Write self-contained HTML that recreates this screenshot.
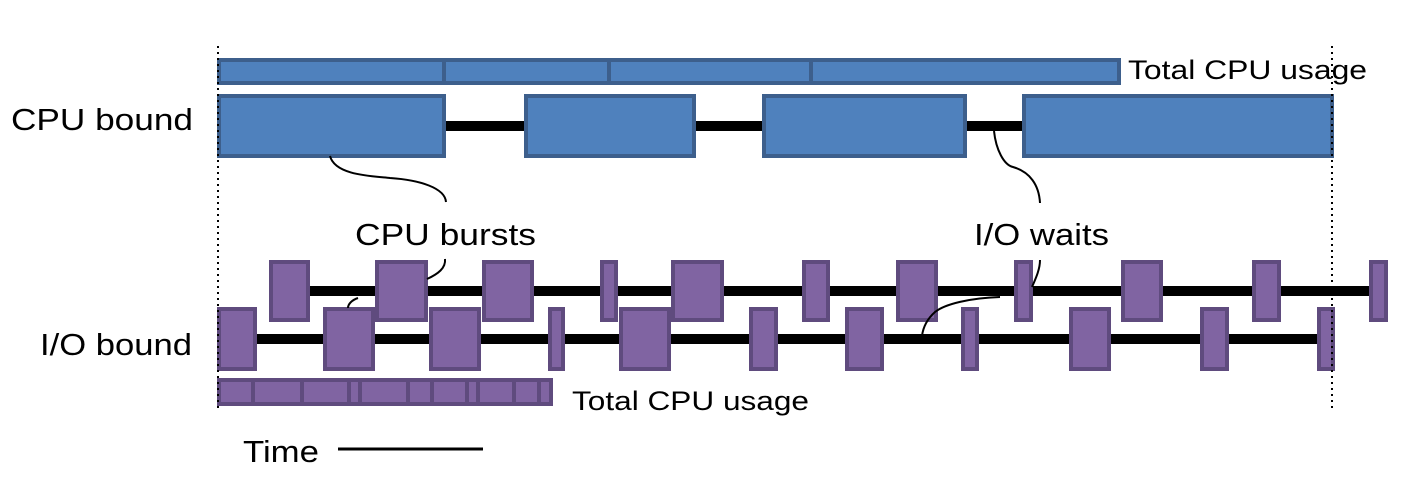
<!DOCTYPE html>
<html><head><meta charset="utf-8"><style>html,body{margin:0;padding:0;background:#fff}svg{display:block}</style></head>
<body>
<svg width="1405" height="477" viewBox="0 0 1405 477" xmlns="http://www.w3.org/2000/svg" font-family="Liberation Sans, sans-serif">
<g fill="#4f81bd" stroke="#3d5f8c" stroke-width="4">
<rect x="219" y="60" width="225" height="23"/>
<rect x="444" y="60" width="165" height="23"/>
<rect x="609" y="60" width="202" height="23"/>
<rect x="811" y="60" width="308" height="23"/>
</g>
<g stroke="#000" stroke-width="10">
<line x1="445" y1="126" x2="1023" y2="126"/>
<line x1="305" y1="291" x2="1372" y2="291"/>
<line x1="250" y1="339" x2="1322" y2="339"/>
</g>
<g fill="#4f81bd" stroke="#3d5f8c" stroke-width="4">
<rect x="219" y="96" width="225" height="60"/>
<rect x="526" y="96" width="168" height="60"/>
<rect x="764" y="96" width="201" height="60"/>
<rect x="1024" y="96" width="308" height="60"/>
</g>
<g fill="#8064a2" stroke="#5f4b7e" stroke-width="4">
<rect x="271" y="262" width="37" height="58"/>
<rect x="377" y="262" width="49" height="58"/>
<rect x="484" y="262" width="48" height="58"/>
<rect x="602" y="262" width="14" height="58"/>
<rect x="673" y="262" width="49" height="58"/>
<rect x="804" y="262" width="24" height="58"/>
<rect x="898" y="262" width="38" height="58"/>
<rect x="1016" y="262" width="15" height="58"/>
<rect x="1123" y="262" width="38" height="58"/>
<rect x="1254" y="262" width="25" height="58"/>
<rect x="1371" y="262" width="15" height="58"/>
<rect x="219" y="309" width="36" height="60"/>
<rect x="325" y="309" width="48" height="60"/>
<rect x="431" y="309" width="48" height="60"/>
<rect x="550" y="309" width="13" height="60"/>
<rect x="621" y="309" width="48" height="60"/>
<rect x="751" y="309" width="25" height="60"/>
<rect x="847" y="309" width="35" height="60"/>
<rect x="963" y="309" width="14" height="60"/>
<rect x="1071" y="309" width="38" height="60"/>
<rect x="1202" y="309" width="25" height="60"/>
<rect x="1319" y="309" width="14" height="60"/>
<rect x="219" y="380" width="34" height="24"/>
<rect x="253" y="380" width="49" height="24"/>
<rect x="302" y="380" width="47" height="24"/>
<rect x="349" y="380" width="11" height="24"/>
<rect x="360" y="380" width="48" height="24"/>
<rect x="408" y="380" width="24" height="24"/>
<rect x="432" y="380" width="35" height="24"/>
<rect x="467" y="380" width="11" height="24"/>
<rect x="478" y="380" width="36" height="24"/>
<rect x="514" y="380" width="25" height="24"/>
<rect x="539" y="380" width="12" height="24"/>
</g>
<g stroke="#000" stroke-width="2" stroke-dasharray="2,4">
<line x1="218" y1="46" x2="218" y2="412"/>
<line x1="1332" y1="46" x2="1332" y2="412"/>
</g>
<g fill="none" stroke="#000" stroke-width="2">
<path d="M330,156 C335,175 370,176 390,178 C420,180 445,188 446,202"/>
<path d="M994,131 C996,150 1004,165 1013,167 C1030,172 1039,185 1040,203"/>
<path d="M445,259 C446,268 438,274 427,279"/>
<path d="M358,298 C352,300 348,304 348,308"/>
<path d="M1040,260 C1040,270 1035,280 1032,287"/>
<path d="M1000,297 C970,298 945,304 935,312 C926,320 923,328 922,336"/>
<line x1="338" y1="449" x2="483" y2="449" stroke-width="3"/>
</g>
<g fill="#000" font-size="31">
<text x="11" y="130" textLength="182" lengthAdjust="spacingAndGlyphs">CPU bound</text>
<text x="40" y="355" textLength="152" lengthAdjust="spacingAndGlyphs">I/O bound</text>
<text x="355" y="245" textLength="181" lengthAdjust="spacingAndGlyphs">CPU bursts</text>
<text x="974" y="245" textLength="135" lengthAdjust="spacingAndGlyphs">I/O waits</text>
<text x="1128" y="79" font-size="27" textLength="239" lengthAdjust="spacingAndGlyphs">Total CPU usage</text>
<text x="572" y="410" font-size="27" textLength="237" lengthAdjust="spacingAndGlyphs">Total CPU usage</text>
<text x="243" y="462" textLength="76" lengthAdjust="spacingAndGlyphs">Time</text>
</g>
</svg>
</body></html>
